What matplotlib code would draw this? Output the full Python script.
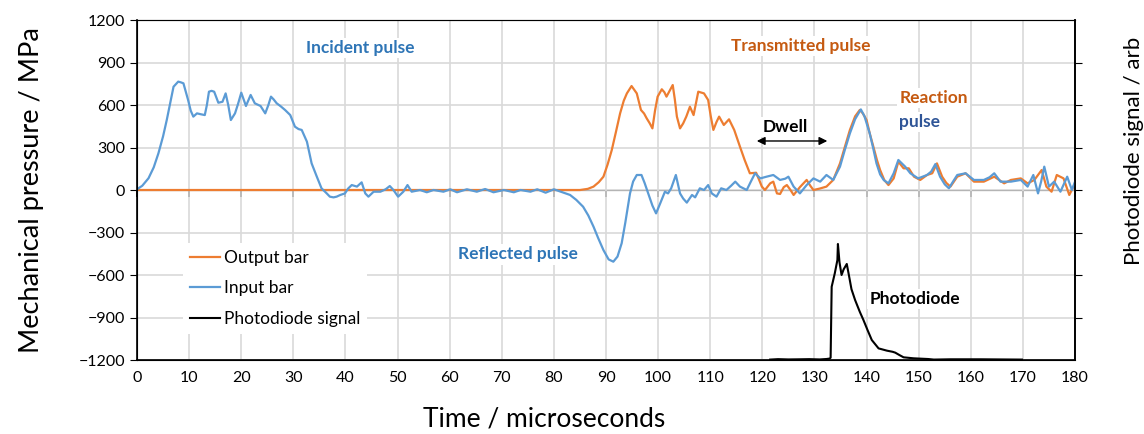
import matplotlib.pyplot as plt

plt.rcParams['font.family'] = ['Lato', 'DejaVu Sans']

# input bar (blue)
input_t = [0, 1, 2.2, 3.2, 4.1, 5, 5.7, 6.4, 7.0, 7.9, 8.4, 8.9, 9.3, 9.8, 10.3, 10.8, 11.5, 12.2, 13.0,
           13.4, 13.8, 14.3, 14.8, 15.6, 16.4, 17.0, 17.5, 18.0, 18.8, 19.4, 20.0, 20.9, 21.8, 22.6,
           23.7, 24.6, 25.2, 25.7, 26.2, 26.8, 27.6, 28.4, 29.4, 30.3, 31.0, 31.6, 32.6, 33.5, 34.5,
           35.4, 36.4, 37.0, 37.7, 38.3, 39.0, 39.9, 40.5, 41.2, 42.2, 43.1, 43.8, 44.4, 45.4, 46.7,
           47.7, 48.5, 49.2, 50.1, 51.1, 51.9, 52.7, 54.3, 55.6, 56.9, 58.8, 60.1, 61.4, 63.3, 65.2,
           66.8, 68.4, 70.4, 72.3, 73.6, 75.5, 76.8, 78.4, 80.0, 81.3, 83.1, 84.3, 85.6, 86.6, 87.6,
           88.5, 89.5, 90.5, 91.4, 92.2, 93.0, 93.7, 94.3, 94.6, 95.2, 95.9, 96.8, 97.4, 98.1, 98.9,
           99.6, 100.4, 101.3, 101.9, 102.5, 103.4, 104.2, 104.8, 105.5, 106.5, 107.1, 108.0, 108.8,
           109.6, 110.3, 111.2, 112.1, 113.1, 114.0, 114.8, 115.7, 117.0, 117.8, 118.6, 119.6, 120.8,
           122.1, 123.4, 124.4, 125.0, 126.0, 127.2, 128.5, 129.8, 131.1, 132.3, 133.6, 134.9, 135.8,
           136.8, 137.8, 138.9, 139.6, 140.6, 141.3, 141.9, 142.6, 143.3, 144.2, 145.2, 146.1, 147.4,
           148.4, 149.9, 151.6, 152.4, 153.2, 154.1, 155.0, 155.8, 156.6, 157.4, 159.0, 160.6, 162.5,
           163.6, 164.5, 165.7, 167.7, 169.6, 170.9, 172.0, 172.9, 173.5, 174.1, 175.0, 176.0, 177.2,
           178.5, 179.4, 180]
input_p = [5, 30, 83, 160, 259, 380, 494, 620, 729, 765, 760, 753, 700, 635, 560, 518, 541, 535, 529,
           600, 694, 700, 694, 616, 623, 682, 600, 494, 541, 610, 687, 593, 671, 612,
           593, 541, 600, 659, 640, 612, 590, 565, 529, 447, 430, 424, 341, 188, 94,
           12, -24, -47, -52, -47, -35, -24, 10, 35, 24, 54, -24, -47, -12, -12,
           5, 28, 0, -47, -12, 35, -12, 0, -16, 0, -12, 5, -16, 5, -12,
           7, -16, 0, -16, 0, -12, 5, -19, 5, -12, -35, -70, -118, -180, -259,
           -340, -424, -490, -506, -470, -376, -230, -94, -24, 60, 106, 106, 50, -24, -110,
           -165, -94, -12, -24, 12, 106, -24, -60, -89, -35, -52, 12, 0,
           35, -24, -47, 12, 0, 30, 59, 24, 0, 60, 118, 82, 94,
           106, 71, 80, 94, 24, -24, 35, 82, 59, 106, 71, 165, 280,
           400, 500, 569, 520, 400, 290, 188, 110, 70, 47, 118, 212, 165,
           118, 82, 106, 130, 183, 94, 40, 12, 60, 106, 118, 71, 71,
           90, 118, 59, 59, 71, 24, 106, -24, 60, 165, 24, 59, -12,
           94, 0, 59]

# output bar (orange)
output_t = [0, 80, 85, 86.5, 87.6, 88.6, 89.5, 90.3, 91.1, 91.9, 92.7, 93.4, 94.0, 94.9, 95.9, 96.7,
            97.3, 97.8, 98.4, 98.9, 99.4, 99.9, 100.7, 101.2, 101.6, 102.2, 102.8, 103.2, 103.6,
            104.2, 104.8, 105.4, 106.1, 106.8, 107.3, 107.7, 108.8, 109.6, 110.1, 110.6, 111.2,
            111.7, 112.6, 113.6, 114.6, 115.7, 116.6, 117.6, 118.8, 119.4, 119.9, 120.5, 121.5,
            122.1, 122.8, 123.4, 124.1, 124.7, 125.4, 126.0, 127.2, 128.5, 129.2, 129.8, 131.0,
            132.3, 133.6, 134.9, 135.8, 136.8, 137.8, 138.7, 139.3, 140.0, 140.6, 141.3, 142.0,
            142.6, 143.4, 144.2, 145.2, 146.1, 147.1, 148.1, 149.1, 150.3, 151.6, 152.6, 153.5,
            154.5, 155.3, 156.1, 157.4, 159.0, 160.6, 162.5, 164.5, 166.4, 167.7, 169.6, 170.9,
            172.2, 173.6, 174.5, 175.5, 176.5, 177.8, 178.9, 179.7]
output_p = [0, 0, 0, 8, 24, 55, 94, 180, 282, 410, 541, 630, 682, 734, 682, 565,
            540, 506, 470, 435, 560, 659, 711, 690, 659, 700, 741, 640, 518,
            435, 470, 518, 588, 529, 620, 694, 682, 635, 520, 424, 480,
            518, 459, 499, 424, 306, 212, 118, 122, 70, 24, 0, 47,
            59, -24, -28, 20, 35, 0, -35, 20, 71, 30, 0, 10,
            24, 71, 188, 300, 424, 520, 565, 540, 494, 400, 306, 210,
            141, 70, 35, 82, 200, 153, 153, 94, 71, 106, 118, 188,
            94, 50, 24, 94, 118, 59, 59, 94, 47, 71, 82, 47,
            71, 141, 24, -12, 106, 82, -35, 24]

# photodiode signal (arb)
diode_t = [121.5, 123, 125, 127.2, 129, 131, 132.3, 132.9, 133.1, 133.3, 133.9, 134.4, 134.5, 134.8,
           135.2, 135.6, 136.2, 136.6, 137.1, 137.8, 138.7, 139.4, 140.2, 141.0, 142.3, 143.9,
           145.0, 145.5, 146.3, 147.1, 149.0, 151.8, 152.9, 156.1, 161.9, 165.7, 169.8]
diode_v = [3, 6, 4, 5, 6, 4, 7, 10, 16, 517, 612, 706, 819, 690,
           600, 640, 678, 600, 500, 423, 340, 282, 210, 141, 82, 66,
           58, 52, 35, 19, 12, 7, 3, 5, 5, 4, 3]

x_ticks = list(range(0, 181, 10))
y_ticks = list(range(-1200, 1201, 300))

blue = '#5B9BD5'
orange = '#ED7D31'

fig, ax = plt.subplots(figsize=(11.44, 4.34), dpi=100)
fig.subplots_adjust(left=0.1198, right=0.9397, bottom=0.1705, top=0.9539)

ax.set_axisbelow(True)
ax.grid(True, color='#D9D9D9', lw=1.2)
l_out, = ax.plot(output_t, output_p, color=orange, lw=1.6, label='Output bar', zorder=2)
l_in, = ax.plot(input_t, input_p, color=blue, lw=1.6, label='Input bar', zorder=3)
ax.set_xlim(0, 180)
ax.set_ylim(-1200, 1200)
ax.set_xticks(x_ticks)
ax.set_yticks(y_ticks)
ax.tick_params(axis='x', length=0, labelsize=11.5, pad=8)
ax.tick_params(axis='y', length=5, direction='out', labelsize=11.5)
for s in ['left', 'bottom', 'right']:
    ax.spines[s].set_color('black')
    ax.spines[s].set_linewidth(1.2)
ax.spines['top'].set_color('#595959')

# zero line with the tick marks (Excel style axis crossing)
sec = ax.secondary_xaxis(0.5)
sec.set_xticks(x_ticks)
sec.xaxis.set_ticks_position('bottom')
sec.tick_params(axis='x', direction='out', length=5, width=1.2, labelbottom=False, labeltop=False)
sec.spines['bottom'].set_linewidth(1.2)

ax.set_xlabel('Time / microseconds', fontsize=19)
ax.xaxis.set_label_coords(0.434, -0.138)
ax.set_ylabel('Mechanical pressure / MPa', fontsize=19.5)
ax.yaxis.set_label_coords(-0.099, 0.5)

ax2 = ax.twinx()
l_pd, = ax2.plot(diode_t, diode_v, color='black', lw=1.5, label='Photodiode signal')
ax2.set_ylim(0, 2400)
ax2.set_yticks([300 * i for i in range(1, 8)])
ax2.tick_params(axis='y', length=5, direction='out', labelright=False)
ax2.spines['right'].set_color('black')
ax2.spines['right'].set_linewidth(1.2)
ax2.set_ylabel('Photodiode signal / arb', fontsize=16)
ax2.yaxis.set_label_coords(1.052, 0.615)

box = dict(facecolor='white', edgecolor='none', pad=1.5)
tk = dict(fontsize=12.5, fontweight='bold', ha='center', va='center', bbox=box, zorder=4)
ax.text(42.8, 1000, 'Incident pulse', color='#2E75B6', **tk)
ax.text(73.1, -455, 'Reflected pulse', color='#2E75B6', **tk)
ax.text(127.3, 1015, 'Transmitted pulse', color='#C55A11', **tk)
ax.text(146.3, 650, 'Reaction', color='#C55A11', **dict(tk, ha='left'))
ax.text(146.3, 480, 'pulse', color='#2F5597', **dict(tk, ha='left'))
ax.text(124.4, 445, 'Dwell', color='black', **tk)
ax.text(149.2, -770, 'Photodiode', color='black', **tk)
ax.annotate('', xy=(118.4, 346), xytext=(133.0, 346),
            arrowprops=dict(arrowstyle='<|-|>', color='black', lw=1, mutation_scale=12), zorder=4)

leg = ax2.legend(handles=[l_out, l_in, l_pd], loc='upper left', bbox_to_anchor=(0.049, 0.345),
                 fontsize=12.5, frameon=True, fancybox=False, edgecolor='none', framealpha=1,
                 handlelength=1.75, handletextpad=0.2, labelspacing=0.85, borderaxespad=0)

fig.savefig('out.png', dpi=100)
